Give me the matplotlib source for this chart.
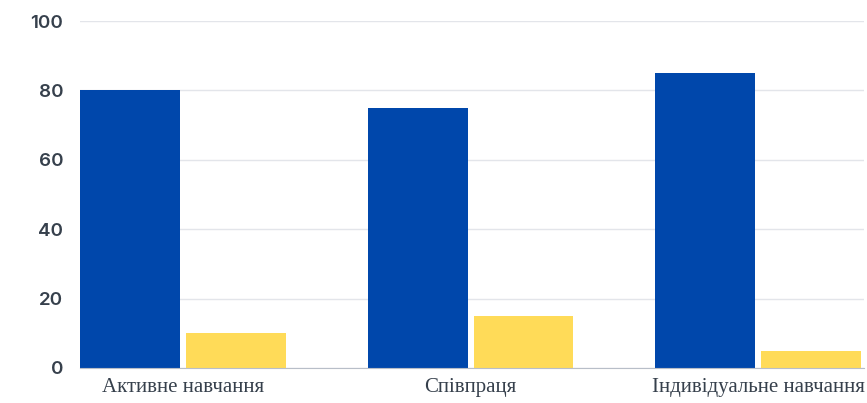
import matplotlib
matplotlib.use("Agg")
import matplotlib.pyplot as plt
import numpy as np

categories = ["Активне навчання", "Співпраця", "Індивідуальне навчання"]
blue_values = [80, 75, 85]
yellow_values = [10, 15, 5]
y_ticks = [0, 20, 40, 60, 80, 100]

text_color = "#36404c"

fig = plt.figure(figsize=(8.67, 4.03), dpi=100)
ax = fig.add_axes([80 / 867, 35 / 403, 784 / 867, 347 / 403])

x = np.arange(len(categories))
w = 0.347
off = 0.184
ax.bar(x - off, blue_values, width=w, color="#0047ab", zorder=3)
ax.bar(x + off, yellow_values, width=w, color="#ffdb58", zorder=3)

ax.set_xlim(-0.358, 2.368)
ax.set_ylim(0, 100)
ax.set_yticks(y_ticks)
ax.grid(axis="y", color="#e3e5ea", linewidth=1, zorder=0)

for s in ["top", "right", "left"]:
    ax.spines[s].set_visible(False)
ax.spines["bottom"].set_color("#b8bec8")
ax.spines["bottom"].set_zorder(4)

ax.tick_params(axis="y", length=0, pad=12, colors=text_color)
ax.tick_params(axis="x", length=0, pad=7, colors=text_color)
ax.set_xticks(x)
ax.set_xticklabels(categories, family="Liberation Serif", fontsize=15)
for lbl in ax.get_yticklabels():
    lbl.set_family("Inter")
    lbl.set_fontsize(13.5)
    lbl.set_fontweight("semibold")

fig.savefig("out.png", dpi=100)
